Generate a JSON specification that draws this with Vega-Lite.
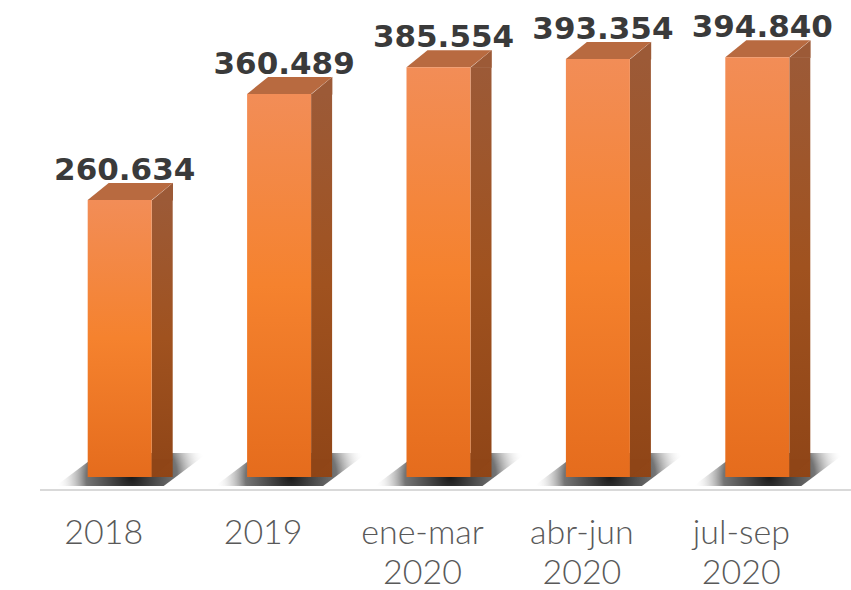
{
  "$schema": "https://vega.github.io/schema/vega-lite/v6.json",
  "width": 797,
  "height": 457,
  "autosize": "none",
  "padding": {"left": 40, "top": 20, "right": 14, "bottom": 113},
  "background": "white",
  "config": {
    "view": {"stroke": null}
  },
  "data": {
    "values": [
      {"periodo": "2018", "valor": 260634},
      {"periodo": "2019", "valor": 360489},
      {"periodo": "ene-mar|2020", "valor": 385554},
      {"periodo": "abr-jun|2020", "valor": 393354},
      {"periodo": "jul-sep|2020", "valor": 394840}
    ]
  },
  "layer": [
    {
      "mark": {
        "type": "point", "filled": true, "size": 4, "opacity": 1, "strokeWidth": 0,
        "shape": "M -64 9 L 44 9 L 88 -24 L -20 -24 Z",
        "fill": {"gradient": "radial", "x1": 0.5, "y1": 0.55, "r1": 0, "x2": 0.5, "y2": 0.55, "r2": 0.5,
          "stops": [{"offset": 0, "color": "rgba(25,25,25,1)"}, {"offset": 0.6, "color": "rgba(70,70,70,0.75)"}, {"offset": 1, "color": "rgba(255,255,255,0)"}]}
      },
      "encoding": {
        "x": {"field": "periodo", "type": "nominal", "sort": null, "scale": {"paddingInner": 0, "paddingOuter": 0}, "axis": null},
        "y": {"datum": 0, "type": "quantitative", "scale": {"domain": [0, 430000], "nice": false}, "axis": null}
      }
    },
    {
      "mark": {"type": "rule", "color": "#d9d9d9", "strokeWidth": 2, "xOffset": 30, "x2Offset": -17, "yOffset": 13},
      "encoding": {"y": {"datum": 0, "type": "quantitative"}}
    },
    {
      "mark": {
        "type": "bar", "width": 21, "xOffset": 42.5, "y2Offset": -17, "strokeWidth": 0,
        "color": {"gradient": "linear", "x1": 0, "y1": 0, "x2": 0, "y2": 1,
          "stops": [{"offset": 0, "color": "#9c5a37"}, {"offset": 0.5, "color": "#a0521f"}, {"offset": 1, "color": "#8f4517"}]}
      },
      "encoding": {
        "x": {"field": "periodo", "type": "nominal", "sort": null},
        "y": {"field": "valor", "type": "quantitative"}
      }
    },
    {
      "mark": {"type": "point", "filled": true, "size": 4, "opacity": 1, "strokeWidth": 0, "color": "#9c5a37",
        "shape": "M 32 0.5 L 53.3 -17.2 L 53.3 0.5 Z"},
      "encoding": {
        "x": {"field": "periodo", "type": "nominal", "sort": null},
        "y": {"field": "valor", "type": "quantitative"}
      }
    },
    {
      "mark": {"type": "point", "filled": true, "size": 4, "opacity": 1, "strokeWidth": 0, "color": "#8f4517",
        "shape": "M 32 -17.5 L 53.3 -17.5 L 32 0 Z"},
      "encoding": {
        "x": {"field": "periodo", "type": "nominal", "sort": null},
        "y": {"datum": 0, "type": "quantitative"}
      }
    },
    {
      "mark": {"type": "point", "filled": true, "size": 4, "opacity": 1, "strokeWidth": 0, "color": "#b86a40",
        "shape": "M -32 0 L 32 0 L 53 -17 L -11 -17 Z"},
      "encoding": {
        "x": {"field": "periodo", "type": "nominal", "sort": null},
        "y": {"field": "valor", "type": "quantitative"}
      }
    },
    {
      "mark": {
        "type": "bar", "width": 64, "strokeWidth": 0,
        "color": {"gradient": "linear", "x1": 0, "y1": 0, "x2": 0, "y2": 1,
          "stops": [{"offset": 0, "color": "#f28d57"}, {"offset": 0.5, "color": "#f5822e"}, {"offset": 1, "color": "#e56c1d"}]}
      },
      "encoding": {
        "x": {"field": "periodo", "type": "nominal", "sort": null},
        "y": {"field": "valor", "type": "quantitative"}
      }
    },
    {
      "mark": {"type": "text", "font": "Lato", "fontWeight": 300, "fontSize": 34, "color": "#595959",
        "baseline": "alphabetic", "align": "center", "lineBreak": "|", "lineHeight": 40, "dx": -16, "dy": 67},
      "encoding": {
        "x": {"field": "periodo", "type": "nominal", "sort": null},
        "y": {"datum": 0, "type": "quantitative"},
        "text": {"field": "periodo", "type": "nominal"}
      }
    },
    {
      "mark": {"type": "text", "font": "DejaVu Sans", "fontWeight": "bold", "fontSize": 31,
        "color": "#3a3a3a", "baseline": "alphabetic", "align": "center", "dx": 5, "dy": -20,
        "text": {"expr": "replace(format(datum.valor, ',d'), ',', '.')"}},
      "encoding": {
        "x": {"field": "periodo", "type": "nominal", "sort": null},
        "y": {"field": "valor", "type": "quantitative"}
      }
    }
  ]
}
